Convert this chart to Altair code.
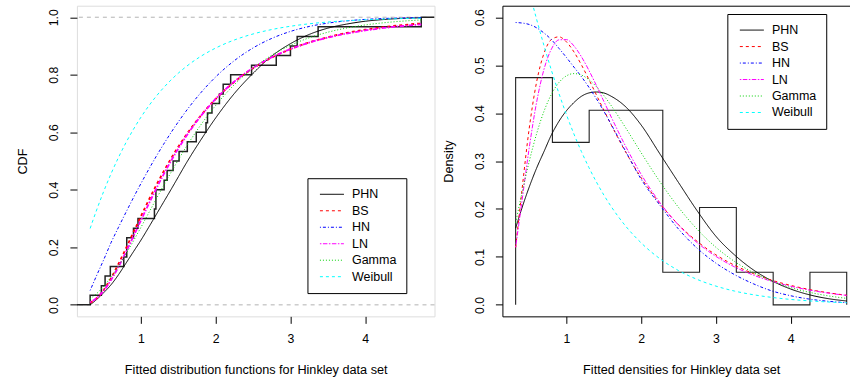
import altair as alt
import pandas as pd

FONT = "Liberation Sans"

# Hinkley (1977): March precipitation (inches), Minneapolis/St Paul, 30 years
precip = [0.77, 1.74, 0.81, 1.20, 1.95, 1.20, 0.47, 1.43, 3.37, 2.20,
          3.00, 3.09, 1.51, 2.10, 0.52, 1.62, 1.31, 0.32, 0.59, 0.81,
          2.81, 1.87, 1.18, 1.35, 4.75, 2.48, 0.96, 1.89, 0.90, 2.05]

# histogram: 9 equal-width classes between min and max
bin_lo = [0.32, 0.812, 1.304, 1.797, 2.289, 2.781, 3.273, 3.766, 4.258]
bin_hi = [0.812, 1.304, 1.797, 2.289, 2.781, 3.273, 3.766, 4.258, 4.75]
bin_density = [0.474, 0.339, 0.406, 0.406, 0.068, 0.203, 0.068, 0.0, 0.068]

models = ["PHN", "BS", "HN", "LN", "Gamma", "Weibull"]
colors = ["black", "red", "blue", "magenta", "#00d000", "cyan"]
dashes = [[1, 0], [3, 3], [1, 2, 3, 2], [1.5, 1.5, 4.5, 1.5], [1, 2], [3, 3]]

x_grid = [0.32, 0.4, 0.5, 0.6, 0.7, 0.8, 0.9, 1.0, 1.1, 1.2, 1.3, 1.4, 1.5, 1.6,
          1.8, 2.0, 2.25, 2.5, 2.75, 3.0, 3.25, 3.5, 3.75, 4.0, 4.25, 4.5, 4.75]

# fitted distribution functions
cdf = {
    "PHN": [0.0, 0.017, 0.042, 0.07, 0.105, 0.145, 0.185, 0.225, 0.268, 0.312, 0.356, 0.40, 0.445, 0.49,
            0.573, 0.65, 0.735, 0.805, 0.865, 0.908, 0.94, 0.962, 0.976, 0.986, 0.992, 0.996, 0.998],
    "BS": [0.007, 0.021, 0.0512, 0.0931, 0.1428, 0.197, 0.2527, 0.3083, 0.3621, 0.4136, 0.4621, 0.5076, 0.5498, 0.5888,
           0.6579, 0.716, 0.7752, 0.8224, 0.8596, 0.8891, 0.9123, 0.9306, 0.9452, 0.9565, 0.9656, 0.9728, 0.9784],
    "HN": [0.05, 0.098, 0.156, 0.2164, 0.27, 0.3222, 0.373, 0.422, 0.4692, 0.5144, 0.5572, 0.598, 0.6364, 0.6724,
           0.7372, 0.7926, 0.8492, 0.8932, 0.9264, 0.9506, 0.9678, 0.9795, 0.9873, 0.9924, 0.9956, 0.9975, 0.9986],
    "LN": [0.0089, 0.022, 0.0489, 0.0865, 0.1325, 0.184, 0.2385, 0.2939, 0.3487, 0.4016, 0.452, 0.4994, 0.5436, 0.5843,
           0.6562, 0.7161, 0.7765, 0.8238, 0.8606, 0.8893, 0.9117, 0.9293, 0.9431, 0.954, 0.9626, 0.9695, 0.975],
    "Gamma": [0.0215, 0.0376, 0.0641, 0.0969, 0.135, 0.1772, 0.2226, 0.2697, 0.3178, 0.366, 0.4134, 0.4597, 0.5043, 0.5471,
              0.6254, 0.6934, 0.7657, 0.8229, 0.8679, 0.9023, 0.9284, 0.9479, 0.9624, 0.9731, 0.9808, 0.9864, 0.9904],
    "Weibull": [0.2656, 0.3249, 0.3935, 0.456, 0.5128, 0.5642, 0.6106, 0.6525, 0.6901, 0.7239, 0.7542, 0.7813, 0.8056, 0.8273,
                0.8639, 0.8929, 0.9209, 0.9418, 0.9572, 0.9686, 0.9771, 0.9833, 0.9878, 0.9911, 0.9936, 0.9953, 0.9966],
}

# fitted densities
pdf = {
    "PHN": [0.16, 0.20, 0.245, 0.285, 0.32, 0.355, 0.383, 0.405, 0.422, 0.435, 0.442, 0.444, 0.442, 0.435,
            0.412, 0.375, 0.315, 0.255, 0.196, 0.143, 0.104, 0.073, 0.05, 0.033, 0.021, 0.013, 0.008],
    "BS": [0.1197, 0.2328, 0.3661, 0.4644, 0.5249, 0.5536, 0.5591, 0.5485, 0.5277, 0.5007, 0.4702, 0.4382, 0.4063, 0.3751,
           0.3166, 0.2652, 0.2111, 0.1671, 0.1322, 0.1043, 0.0825, 0.0653, 0.0513, 0.0406, 0.032, 0.0253, 0.02],
    "HN": [0.589, 0.588, 0.585, 0.578, 0.567, 0.553, 0.535, 0.516, 0.496, 0.476, 0.454, 0.43, 0.404, 0.376,
           0.318, 0.262, 0.208, 0.158, 0.118, 0.087, 0.063, 0.044, 0.029, 0.019, 0.012, 0.0075, 0.0045],
    "LN": [0.1202, 0.2109, 0.3257, 0.4221, 0.4917, 0.534, 0.5528, 0.5533, 0.5401, 0.5176, 0.4893, 0.4577, 0.4246, 0.3915,
           0.3283, 0.2721, 0.2133, 0.1664, 0.1296, 0.1011, 0.0791, 0.0621, 0.049, 0.0388, 0.0308, 0.0246, 0.0197],
    "Gamma": [0.1712, 0.2299, 0.298, 0.3566, 0.404, 0.4396, 0.4639, 0.4777, 0.4824, 0.4794, 0.4698, 0.4553, 0.4367, 0.4153,
              0.3674, 0.3172, 0.257, 0.2032, 0.1575, 0.1201, 0.0904, 0.0673, 0.0495, 0.0361, 0.0262, 0.0188, 0.0135],
    "Weibull": [0.765, 0.7162, 0.655, 0.5961, 0.5405, 0.4887, 0.4408, 0.3967, 0.3564, 0.3198, 0.2866, 0.2565, 0.2292, 0.2047,
                0.1628, 0.1292, 0.0963, 0.0715, 0.053, 0.0391, 0.0287, 0.0211, 0.0155, 0.0113, 0.0083, 0.006, 0.0044],
}

x_left_domain = [0.143, 4.927]
x_right_domain = [0.143, 4.794]
cdf_levels = [0.0, 1.0]


def long_table(values):
    rows = []
    for m in models:
        for x, v in zip(x_grid, values[m]):
            rows.append({"model": m, "x": x, "value": v})
    return pd.DataFrame(rows)


cdf_df = long_table(cdf)
pdf_df = long_table(pdf)

# empirical distribution function, drawn as a step line across the panel
obs = pd.Series(sorted(precip))
ecdf_df = pd.DataFrame({"x": obs, "F": obs.rank(method="max") / len(obs)})
ecdf_df = pd.concat([
    pd.DataFrame({"x": [x_left_domain[0]], "F": [0.0]}),
    ecdf_df,
    pd.DataFrame({"x": [x_left_domain[1]], "F": [1.0]}),
], ignore_index=True)

# histogram outline: rises from zero at the first break, falls to zero at the last
hist_df = pd.concat([
    pd.DataFrame({"x": [bin_lo[0]], "density": [0.0]}),
    pd.DataFrame({"x": bin_lo, "density": bin_density}),
    pd.DataFrame({"x": [bin_hi[-1]], "density": [0.0]}),
], ignore_index=True)
level_df = pd.DataFrame({"level": cdf_levels})

xs_left = alt.Scale(domain=x_left_domain, nice=False, zero=False)
xs_right = alt.Scale(domain=x_right_domain, nice=False, zero=False)
ys_left = alt.Scale(domain=[-0.04, 1.04], nice=False, zero=False)
ys_right = alt.Scale(domain=[-0.024, 0.624], nice=False, zero=False)

axis_style = dict(
    grid=False, tickSize=7, tickColor="black", labelColor="black", titleColor="black",
    labelFont=FONT, titleFont=FONT, labelFontSize=12.3, titleFontSize=12.7,
    titleFontWeight="normal", domainColor="black",
)


def x_axis(title, frame, **extra):
    return alt.Axis(values=[1, 2, 3, 4], format="d", title=title, labelPadding=9,
                    titlePadding=19, domain=frame, **axis_style, **extra)


def y_axis(title, ticks, frame):
    return alt.Axis(values=ticks, format=".1f", title=title, labelAngle=270,
                    labelAlign="center", labelBaseline="bottom", labelPadding=9,
                    titlePadding=18, domain=frame, **axis_style)


def legend(lx, ly):
    return alt.Legend(
        title=None, orient="none", legendX=lx, legendY=ly,
        fillColor="white", strokeColor="black", padding=9.6, rowPadding=3.5,
        symbolType="M-0.6,0H3.4", symbolSize=144, symbolStrokeWidth=1,
        labelFont=FONT, labelFontSize=12.5, labelColor="black", labelOffset=22,
        cornerRadius=0,
    )


color_scale = alt.Scale(domain=models, range=colors)
dash_scale = alt.Scale(domain=models, range=dashes)

# ---- left panel: fitted distribution functions ----
xl = alt.X("x:Q", scale=xs_left, axis=x_axis("Fitted distribution functions for Hinkley data set", False))
yl_axis = y_axis("CDF", [0, 0.2, 0.4, 0.6, 0.8, 1.0], False)

ref_lines = alt.Chart(level_df).mark_rule(color="#b3b3b3", strokeDash=[4, 4], strokeWidth=1).encode(
    y=alt.Y("level:Q", scale=ys_left, axis=yl_axis)
)

ecdf_line = alt.Chart(ecdf_df).mark_line(interpolate="step-after", color="#222222", strokeWidth=1.5, clip=True).encode(
    x=xl, y=alt.Y("F:Q", scale=ys_left, axis=yl_axis)
)

leg_left = legend(230.8, 172.7)
cdf_lines = alt.Chart(cdf_df).mark_line(interpolate="monotone", clip=True).encode(
    x=xl,
    y=alt.Y("value:Q", scale=ys_left, axis=yl_axis),
    color=alt.Color("model:N", scale=color_scale, legend=leg_left),
    strokeDash=alt.StrokeDash("model:N", scale=dash_scale, legend=leg_left),
    strokeWidth=alt.condition(alt.FieldOneOfPredicate(field="model", oneOf=["BS", "LN"]),
                              alt.value(1.8), alt.value(1.0)),
)

left = alt.layer(ref_lines, ecdf_line, cdf_lines).properties(width=358, height=311)

# ---- right panel: histogram and fitted densities ----
yr_axis = y_axis("Density", [0, 0.1, 0.2, 0.3, 0.4, 0.5, 0.6], True)

hist = alt.Chart(hist_df).mark_line(interpolate="step-after", color="#222222", strokeWidth=1.1).encode(
    x=alt.X("x:Q", scale=xs_right,
            axis=x_axis("Fitted densities for Hinkley data set", True, titleX=179)),
    y=alt.Y("density:Q", scale=ys_right, axis=yr_axis),
)

# upper edge of the panel frame
top_edge = alt.Chart(hist_df).mark_point(opacity=0).encode(
    x=alt.X("x:Q", scale=xs_right,
            axis=alt.Axis(orient="top", labels=False, ticks=False, title=None, grid=False,
                          domain=True, domainColor="black")),
    y=alt.Y("density:Q", scale=ys_right, axis=yr_axis),
)

leg_right = legend(225.2, 8.3)
pdf_lines = alt.Chart(pdf_df).mark_line(interpolate="monotone", clip=True, strokeWidth=1).encode(
    x=alt.X("x:Q", scale=xs_right, axis=None),
    y=alt.Y("value:Q", scale=ys_right, axis=yr_axis),
    color=alt.Color("model:N", scale=color_scale, legend=leg_right),
    strokeDash=alt.StrokeDash("model:N", scale=dash_scale, legend=leg_right),
)

right = alt.layer(hist, top_edge, pdf_lines).resolve_axis(x="independent").properties(
    width=348, height=311, view=alt.ViewBackground(stroke=None)
)

chart = alt.hconcat(left, right, spacing=68, bounds="flush").resolve_scale(
    x="independent", y="independent", color="independent", strokeDash="independent"
).resolve_legend(color="independent", strokeDash="independent").properties(
    padding={"left": 16, "top": 4.5, "right": 0, "bottom": 4}
).configure_view(stroke="black", strokeWidth=1).configure(background="white")

chart.save("out.html", embed_options={"renderer": "svg", "actions": False})
